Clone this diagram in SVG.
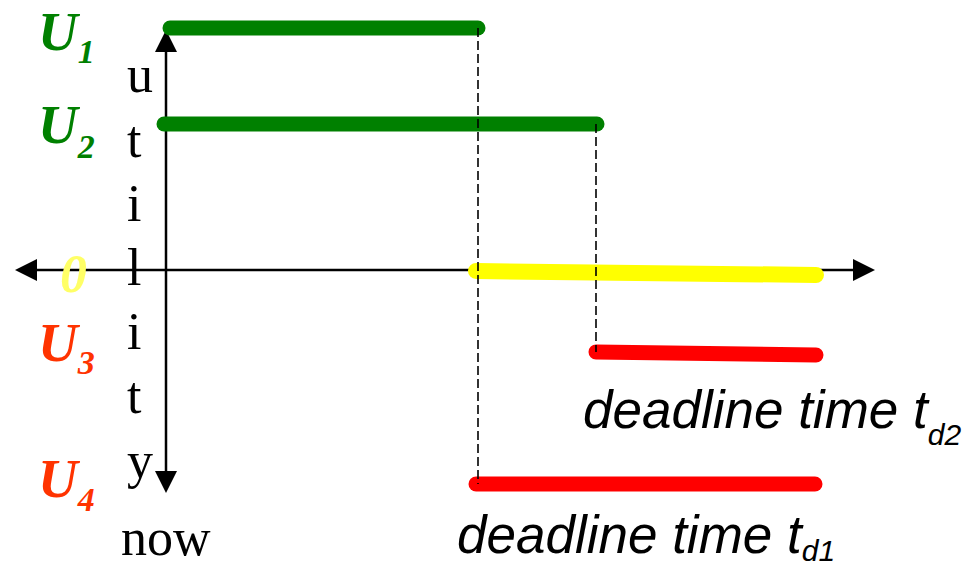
<svg xmlns="http://www.w3.org/2000/svg" width="965" height="569" viewBox="0 0 965 569">
  <style>
    .axis { stroke: #000; stroke-width: 2.5; fill: none; }
    .bar { stroke-width: 15; stroke-linecap: round; fill: none; }
    .green { stroke: #008000; }
    .yellow { stroke: #ffff00; stroke-width: 16; }
    .red { stroke: #ff0000; }
    .dash { stroke: #000; stroke-width: 1.6; stroke-dasharray: 9 4; fill: none; }
    .serif { font-family: "Liberation Serif", "Times New Roman", serif; font-size: 52px; fill: #000; }
    .ulab { font-family: "Liberation Serif", "Times New Roman", serif; font-weight: bold; font-style: italic; font-size: 55px; }
    .sub { font-size: 34px; }
    .lg { fill: #008000; }
    .lr { fill: #ff3300; }
    .dl { font-family: "Liberation Sans", Arial, sans-serif; font-style: italic; font-size: 53px; fill: #000; }
  </style>
  <defs>
    <marker id="arr" viewBox="0 0 22 22" refX="0" refY="11" markerWidth="22" markerHeight="22" markerUnits="userSpaceOnUse" orient="auto-start-reverse">
      <path d="M0,0 L22,11 L0,22 Z" fill="#000"/>
    </marker>
  </defs>

  <g id="axes">
    <line class="axis" x1="37" y1="270" x2="853" y2="270" marker-start="url(#arr)" marker-end="url(#arr)"/>
    <line class="axis" x1="166" y1="52" x2="166" y2="471" marker-start="url(#arr)" marker-end="url(#arr)"/>
  </g>

  <g id="bars">
    <line id="bar-u1" class="bar green" x1="170" y1="28" x2="478" y2="28"/>
    <line id="bar-u2" class="bar green" x1="164" y1="124" x2="597" y2="124"/>
    <line id="bar-zero" class="bar yellow" x1="476" y1="271" x2="816" y2="275"/>
    <line id="bar-u3" class="bar red" x1="596" y1="352" x2="816" y2="355"/>
    <line id="bar-u4" class="bar red" x1="476" y1="484" x2="815" y2="484"/>
  </g>

  <g id="connectors">
    <line class="dash" x1="478" y1="28" x2="478" y2="484"/>
    <line class="dash" x1="596" y1="124" x2="596" y2="352"/>
  </g>

  <g id="axis-label">
    <text class="serif" x="127" y="92">u</text>
    <text class="serif" x="127" y="157">t</text>
    <text class="serif" x="127" y="221">i</text>
    <text class="serif" x="127" y="285">l</text>
    <text class="serif" x="127" y="349">i</text>
    <text class="serif" x="127" y="413">t</text>
    <text class="serif" x="127" y="478">y</text>
    <text class="serif" x="121" y="555">now</text>
  </g>

  <g id="label-u1"><text class="ulab lg" x="38" y="50">U<tspan class="sub" y="63">1</tspan></text></g>
  <g id="label-u2"><text class="ulab lg" x="38" y="143">U<tspan class="sub" y="158">2</tspan></text></g>
  <g id="label-zero"><text class="ulab" x="60" y="292" style="font-size:54px; fill:#ffff66">0</text></g>
  <g id="label-u3"><text class="ulab lr" x="38" y="361">U<tspan class="sub" y="374">3</tspan></text></g>
  <g id="label-u4"><text class="ulab lr" x="38" y="497">U<tspan class="sub" y="511">4</tspan></text></g>

  <g id="deadline-2"><text class="dl" x="583" y="428">deadline time t<tspan font-size="30" y="445">d2</tspan></text></g>
  <g id="deadline-1"><text class="dl" x="457" y="553">deadline time t<tspan font-size="30" y="561">d1</tspan></text></g>
</svg>
